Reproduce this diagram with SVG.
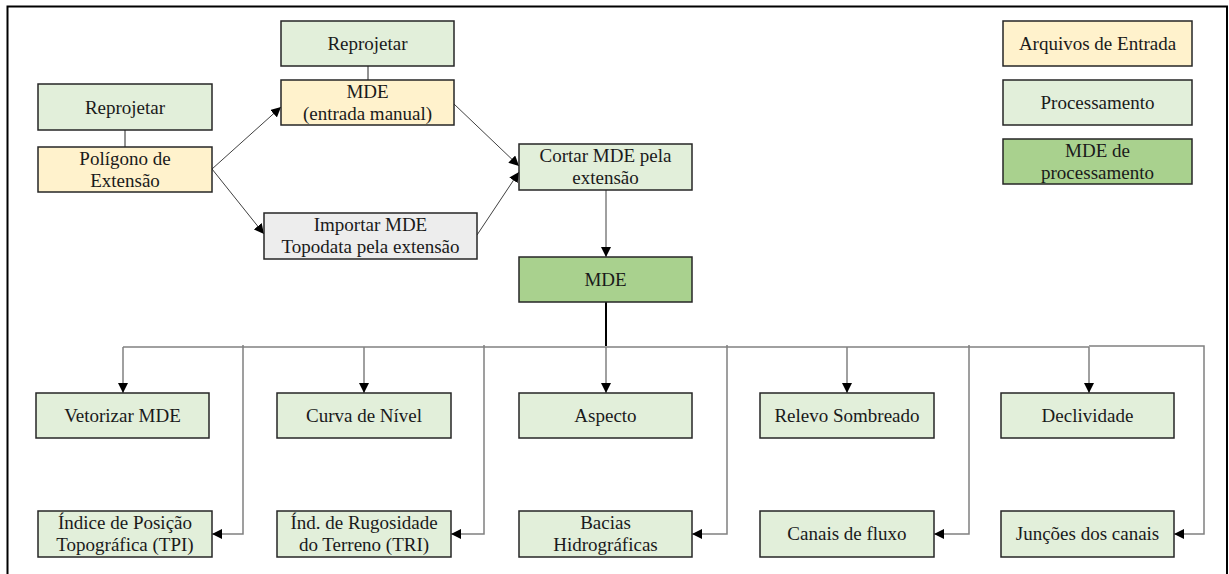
<svg xmlns="http://www.w3.org/2000/svg" width="1229" height="574" viewBox="0 0 1229 574">
<defs>
<style>
.box{stroke:#262626;stroke-width:1.5}
.in{fill:#FFF2CC}
.pr{fill:#E2EFDA}
.md{fill:#A9D18E}
.gr{fill:#EDEDED}
text{font-size:19px;fill:#1a1a1a;text-anchor:middle}
.c{fill:none;stroke:#808080;stroke-width:1.5}
.d{fill:none;stroke:#404040;stroke-width:1}
</style>
<marker id="ah" markerUnits="userSpaceOnUse" markerWidth="10" markerHeight="10" viewBox="0 0 10 10" refX="10" refY="5" orient="auto">
<path d="M0,0 L10,5 L0,10 z" fill="#000"/>
</marker>
</defs>
<rect x="0" y="0" width="1229" height="574" fill="#fff"/>
<path d="M7.5,580 V6.5 H1227 V580" fill="none" stroke="#000" stroke-width="2"/>

<g id="connectors">
<line x1="125" y1="130" x2="125" y2="147" stroke="#262626" stroke-width="1"/>
<line x1="368" y1="66" x2="368" y2="80" stroke="#262626" stroke-width="1"/>
<line class="d" x1="212" y1="169" x2="281" y2="107" marker-end="url(#ah)"/>
<line class="d" x1="212" y1="169" x2="264" y2="234" marker-end="url(#ah)"/>
<line class="d" x1="454" y1="104" x2="519" y2="166" marker-end="url(#ah)"/>
<line class="d" x1="477" y1="235" x2="519" y2="172" marker-end="url(#ah)"/>
<line class="d" x1="606" y1="190" x2="606" y2="257" marker-end="url(#ah)"/>
<line x1="606" y1="302" x2="606" y2="346" stroke="#000" stroke-width="2"/>
<path class="c" d="M123,347 H1089"/>
<line class="c" x1="123" y1="347" x2="123" y2="393" marker-end="url(#ah)"/>
<line class="c" x1="364" y1="347" x2="364" y2="393" marker-end="url(#ah)"/>
<line class="c" x1="606" y1="347" x2="606" y2="393" marker-end="url(#ah)"/>
<line class="c" x1="847" y1="347" x2="847" y2="393" marker-end="url(#ah)"/>
<line class="c" x1="1089" y1="347" x2="1089" y2="393" marker-end="url(#ah)"/>
<path class="c" d="M243,345 V534 H212" marker-end="url(#ah)"/>
<path class="c" d="M484,345 V534 H451" marker-end="url(#ah)"/>
<path class="c" d="M727,345 V534 H692" marker-end="url(#ah)"/>
<path class="c" d="M969,345 V534 H934" marker-end="url(#ah)"/>
<path class="c" d="M1089,346 H1204 V534 H1174" marker-end="url(#ah)"/>
</g>

<g font-family="Liberation Serif, DejaVu Serif, serif">
<g id="reproj1"><rect class="box pr" x="38" y="84" width="174" height="46"/><text x="125" y="114">Reprojetar</text></g>
<g id="poligono"><rect class="box in" x="38" y="147" width="174" height="45"/><text x="125" y="165">Polígono de</text><text x="125" y="187">Extensão</text></g>
<g id="reproj2"><rect class="box pr" x="281" y="21" width="173" height="45"/><text x="367.5" y="50">Reprojetar</text></g>
<g id="mdemanual"><rect class="box in" x="281" y="80" width="173" height="45"/><text x="367.5" y="98">MDE</text><text x="367.5" y="120">(entrada manual)</text></g>
<g id="importar"><rect class="box gr" x="264" y="213" width="213" height="46"/><text x="370.5" y="231">Importar MDE</text><text x="370.5" y="253">Topodata pela extensão</text></g>
<g id="cortar"><rect class="box pr" x="519" y="144" width="173" height="46"/><text x="605.5" y="162">Cortar MDE pela</text><text x="605.5" y="184">extensão</text></g>
<g id="mde"><rect class="box md" x="519" y="257" width="173" height="45"/><text x="605.5" y="286">MDE</text></g>

<g id="leg1"><rect class="box in" x="1003" y="21" width="189" height="45"/><text x="1097.5" y="50">Arquivos de Entrada</text></g>
<g id="leg2"><rect class="box pr" x="1003" y="80" width="189" height="45"/><text x="1097.5" y="109">Processamento</text></g>
<g id="leg3"><rect class="box md" x="1003" y="139" width="189" height="45"/><text x="1097.5" y="157">MDE de</text><text x="1097.5" y="179">processamento</text></g>

<g id="vetorizar"><rect class="box pr" x="36" y="393" width="173" height="45"/><text x="122.5" y="422">Vetorizar MDE</text></g>
<g id="curva"><rect class="box pr" x="277" y="393" width="174" height="45"/><text x="364" y="422">Curva de Nível</text></g>
<g id="aspecto"><rect class="box pr" x="519" y="393" width="173" height="45"/><text x="605.5" y="422">Aspecto</text></g>
<g id="relevo"><rect class="box pr" x="760" y="393" width="174" height="45"/><text x="847" y="422">Relevo Sombreado</text></g>
<g id="declividade"><rect class="box pr" x="1001" y="393" width="173" height="45"/><text x="1087.5" y="422">Declividade</text></g>

<g id="tpi"><rect class="box pr" x="38" y="511" width="174" height="46"/><text x="125" y="529">Índice de Posição</text><text x="125" y="551">Topográfica (TPI)</text></g>
<g id="tri"><rect class="box pr" x="277" y="511" width="174" height="46"/><text x="364" y="529">Índ. de Rugosidade</text><text x="364" y="551">do Terreno (TRI)</text></g>
<g id="bacias"><rect class="box pr" x="519" y="511" width="173" height="46"/><text x="605.5" y="529">Bacias</text><text x="605.5" y="551">Hidrográficas</text></g>
<g id="canais"><rect class="box pr" x="760" y="511" width="174" height="46"/><text x="847" y="540">Canais de fluxo</text></g>
<g id="juncoes"><rect class="box pr" x="1001" y="511" width="173" height="46"/><text x="1087.5" y="540">Junções dos canais</text></g>
</g>
</svg>
